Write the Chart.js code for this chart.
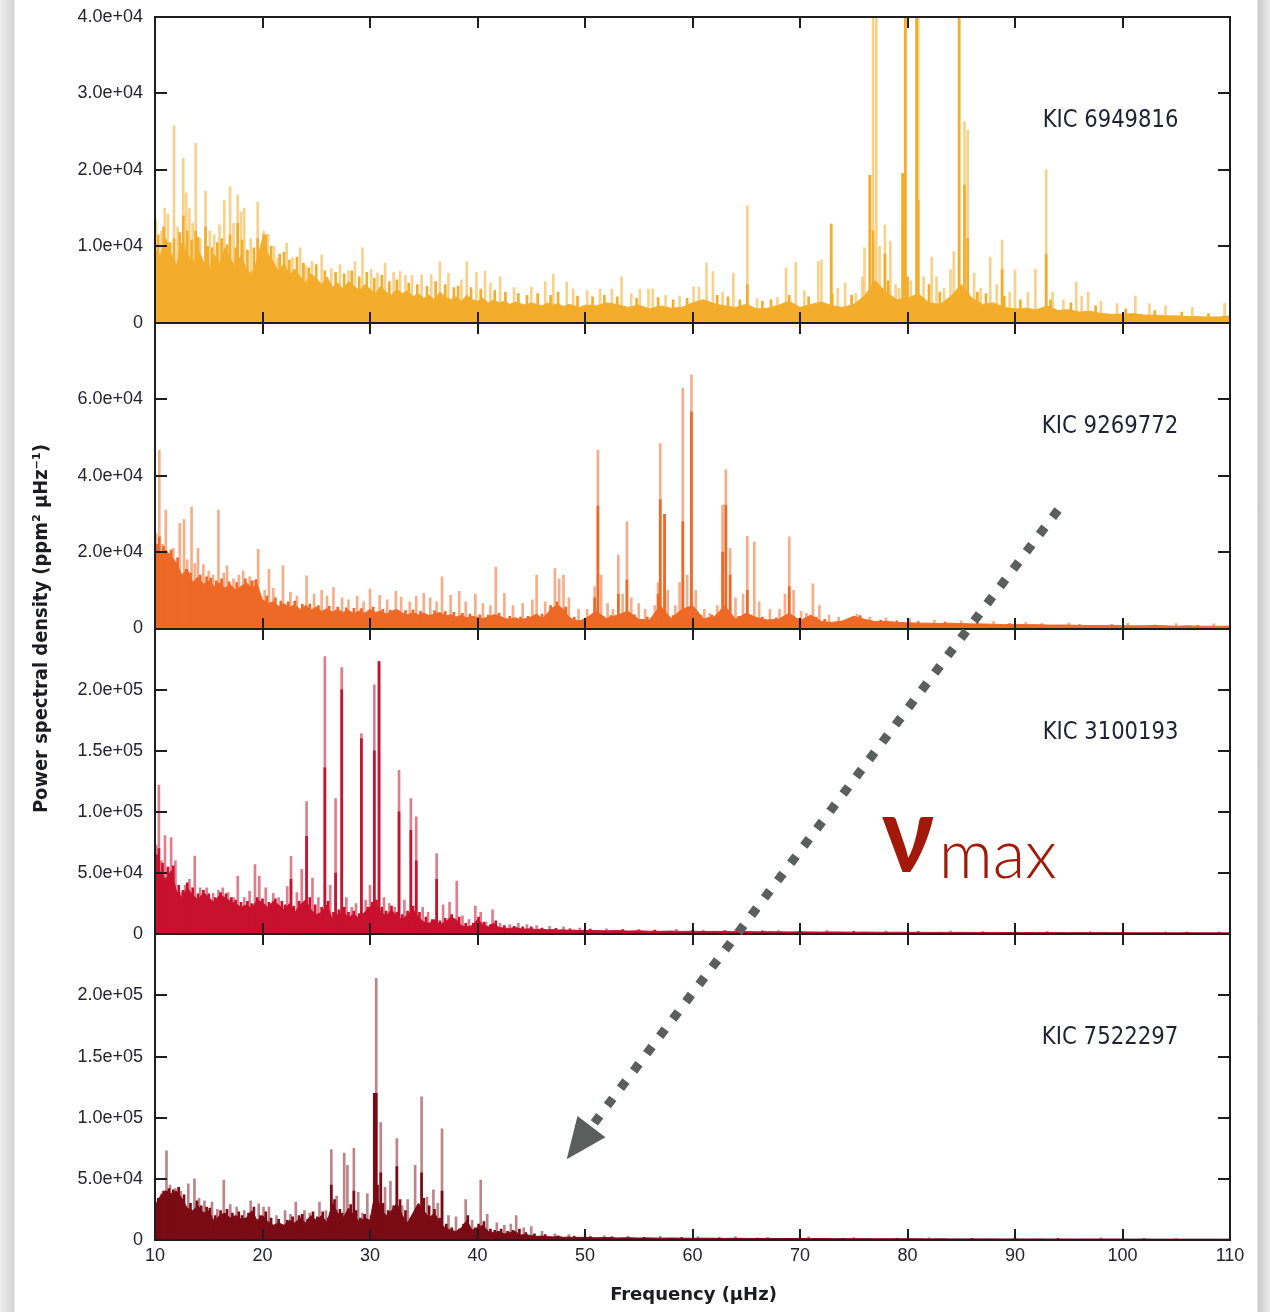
<!DOCTYPE html>
<html>
<head>
<meta charset="utf-8">
<title>Oscillation power spectra of four red giants</title>
<script src="https://cdn.jsdelivr.net/npm/chart.js@4.4.1/dist/chart.umd.min.js"></script>
<style>
  html, body {
    margin: 0; padding: 0; width: 1270px; height: 1312px; overflow: hidden;
    background: linear-gradient(to right, #efefef 0px, #d3d3d3 14px, #ffffff 15px,
                #ffffff 1257px, #c9c9c9 1258px, #ececec 1270px);
  }
  canvas { position: absolute; left: 0; top: 0; }
</style>
</head>
<body>
<canvas id="spectra" width="1270" height="1312"></canvas>
<script>
// ---------- frequency axis ----------
const freqTicks = [10, 20, 30, 40, 50, 60, 70, 80, 90, 100, 110];
const freqTickLabels = ['10', '20', '30', '40', '50', '60', '70', '80', '90', '100', '110'];

// sampling of the smoothed background level: every 0.5 μHz up to 50, every 1 μHz above
const bgFreq = [];
for (let f = 10; f <= 50; f += 0.5) bgFreq.push(f);
for (let f = 51; f <= 110; f += 1) bgFreq.push(f);

// ---------- KIC 6949816 ----------
const p1TickValues = [0, 10000, 20000, 30000, 40000];
const p1TickLabels = ['0', '1.0e+04', '2.0e+04', '3.0e+04', '4.0e+04'];
const p1BgLow = [
  9500, 8800, 11000, 9000, 7500, 10500, 9000, 7800, 9600, 8000,
  6800, 9000, 7600, 9800, 8400, 7200, 8800, 7000, 6400, 8200,
  11000, 9000, 8000, 6600, 7800, 6200, 7000, 6000, 5200, 6400,
  5800, 5000, 6000, 4600, 5200, 4400, 5400, 4800, 4200, 5000,
  4400, 3800, 4800, 4000, 3600, 4400, 3800, 4200, 3400, 3800,
  3200, 3600, 3000, 4000, 3400, 3000, 3400, 2800, 3600, 3000,
  2800, 3200, 2600, 3000, 2600, 2800, 2400, 2700, 2500, 2300,
  2600, 2400, 2200, 2600, 2300, 2500, 2100, 2400, 2200, 2000,
  2300
];
const p1BgHigh = [
  2200, 2600, 2400, 2000, 2300, 1800, 2200, 1900, 2000, 2600,
  3000, 2500, 2200, 2000, 2400, 1800, 1900, 2300, 2800, 2000,
  2400, 2700, 2200, 2000, 2400, 3500, 5500, 4000, 3000, 3200,
  3800, 2600, 2400, 3400, 5000, 3200, 2400, 2600, 2000, 1800,
  1900, 1700, 2200, 1600, 1700, 1400, 1500, 1200, 1100, 1100,
  1200, 1000, 1000, 900, 900, 800, 800, 750, 750, 900
];
const p1Peaks = [
  [10.1,13500],[10.6,12000],[10.9,15000],[11.2,14200],[11.77,25800],[12.1,12500],[12.63,21500],
  [12.9,17000],[13.2,15000],[13.5,13000],[13.78,23500],[14.2,11000],[14.7,17200],[15.1,12000],
  [15.5,11500],[16.0,12800],[16.45,16000],[16.98,17800],[17.3,13000],[17.69,16700],[18.0,14500],
  [18.3,15000],[18.9,11000],[19.55,15800],[20.1,12000],[20.5,11600],[21.07,10000],[21.4,8500],
  [22.25,10400],[22.8,8500],[23.5,9800],[24.0,7500],[24.6,8000],[25.5,8900],[26.4,7100],
  [27.2,7600],[28.0,6800],[28.6,8000],[29.3,9800],[30.1,7000],[30.7,6500],[31.4,7800],
  [32.2,6600],[32.8,6700],[33.3,6200],[33.9,6200],[34.8,6300],[35.7,6300],[36.5,8000],
  [37.3,6500],[38.5,5600],[39.0,8000],[39.9,6600],[40.7,6800],[41.2,5200],[42.1,6000],
  [43.4,4600],[45.0,4700],[46.3,5400],[47.05,6300],[48.3,5300],[48.9,4400],[50.2,4200],
  [51.4,4400],[52.5,4400],[53.4,6000],[54.3,3800],[55.1,4400],[55.9,4400],[56.3,4400],
  [57.5,3600],[58.8,3500],[60.1,4700],[60.6,4700],[61.3,7800],[61.9,6700],[62.8,4000],
  [63.8,6500],[65.1,15300],[66.0,3200],[67.9,3300],[68.7,7200],[69.6,7900],[70.4,4200],
  [71.7,8000],[72.0,8200],[72.9,12900],[73.5,4500],[74.2,5200],[75.2,3800],[75.8,6000],
  [76.0,9800],[76.5,19300],[76.8,45000],[77.1,45000],[77.4,10000],[77.9,12800],[78.4,10700],
  [78.9,5000],[79.2,4500],[79.55,19500],[79.8,45000],[80.3,5500],[80.85,45000],[81.0,45000],
  [81.5,6000],[82.25,8600],[82.7,6000],[83.4,4500],[84.0,7000],[84.3,9300],[84.8,45000],
  [85.3,26300],[85.6,25200],[86.2,6500],[86.8,4500],[87.7,8600],[88.3,5000],[88.8,10800],
  [89.5,4000],[90.0,6900],[91.2,4000],[91.9,7000],[92.9,20000],[93.5,4000],[94.5,3000],
  [95.7,5300],[96.2,3500],[96.8,4000],[98.0,2800],[99.5,2500],[101.2,3500],[102.5,2500],
  [104.0,2200],[106.5,2000],[109.5,2500]
];
const p1Cores = [
  [11.77,11000],[12.63,14000],[13.78,12000],[14.7,12500],[16.98,11500],[17.69,13000],
  [19.55,11000],[20.1,11500],[65.1,5000],[72.9,12900],[76.5,19300],[76.8,12000],[77.9,9000],
  [79.55,19500],[79.8,45000],[80.85,45000],[81.0,16000],[84.8,45000],[85.3,18000],[85.6,11000],
  [88.8,7000],[92.9,9000]
];
const p1Texture = [
  [10.3,11500],[10.8,12500],[11.4,10500],[12.3,11800],[13.0,12000],[13.4,10800],[14.0,11200],
  [14.9,10000],[15.3,9800],[15.8,10500],[16.2,11000],[16.7,10200],[17.5,9800],[18.1,10800],
  [18.6,9500],[19.2,9800],[20.3,11500],[20.8,10000],[21.6,9000],[22.0,9200],[22.5,8200],
  [23.2,8600],[23.8,7800],[24.3,7200],[25.0,7600],[25.8,6800],[26.8,6600],[27.6,6400],
  [28.3,6800],[29.0,6000],[29.7,6600],[30.4,5800],[31.1,6200],[31.8,5400],[32.5,5600],
  [33.6,5200],[34.4,5000],[35.3,4800],[36.1,5400],[37.0,5000],[37.8,4600],[38.2,4800],
  [39.4,4600],[40.3,4400],[41.6,4200],[42.6,4000],[43.8,3800],[44.6,3600],[45.6,3800],
  [46.8,3600],[47.5,4000],[49.3,3500],[50.7,3400],[51.8,3600],[53.0,3400],[54.8,3200],
  [56.8,3300],[58.2,3000],[59.5,3200],[62.3,3600],[63.3,3400],[64.4,3000],[66.5,2800],
  [67.3,3000],[69.0,3600],[70.8,3400],[73.0,3800],[74.8,3600],[78.2,5500],[80.0,6000],
  [82.0,5000],[83.0,4000],[86.5,4000],[87.3,3800],[89.0,3500],[90.5,3000],[93.3,3000],
  [95.2,2600],[97.5,2200],[100.3,1800],[103.0,1600],[105.5,1400],[108.0,1200]
];

// ---------- KIC 9269772 ----------
const p2TickValues = [0, 20000, 40000, 60000, 80000];
const p2TickLabels = ['0', '2.0e+04', '4.0e+04', '6.0e+04', ''];
const p2BgLow = [
  21000, 19500, 20500, 19000, 17000, 14000, 15500, 12000, 13500, 11500,
  12500, 11000, 12000, 10500, 11500, 10000, 11000, 12000, 10500, 11500,
  7500, 6500, 7000, 5800, 6500, 5500, 6200, 5000, 6000, 4800,
  5600, 4500, 5200, 4300, 5000, 4200, 4800, 3800, 4600, 4000,
  5000, 4200, 4600, 3800, 4500, 5000, 4000, 3600, 4200, 3500,
  4000, 3400, 3800, 4200, 3300, 3600, 3000, 3400, 2800, 3200,
  2900, 2600, 3000, 3600, 3400, 2600, 2400, 2800, 2300, 2600,
  3000, 3800, 2500, 4000, 5500, 6000, 5000, 3000, 2200, 2000,
  2500
];
const p2BgHigh = [
  4500, 2600, 3500, 4500, 2400, 2200, 6000, 2600, 5000, 6000,
  2600, 3000, 6000, 2400, 4000, 2800, 2200, 2400, 4000, 2000,
  3500, 1800, 1600, 2000, 3200, 2400, 1800, 1900, 1600, 1500,
  1400, 1400, 1300, 1400, 1300, 1200, 1200, 1100, 1000, 1100,
  1000, 1000, 900, 900, 900, 800, 800, 800, 800, 700,
  700, 700, 800, 700, 600, 700, 600, 600, 600, 600
];
const p2Peaks = [
  [10.1,24900],[10.4,46700],[10.7,22000],[11.0,31000],[11.3,19500],[11.7,21000],[12.3,27500],
  [12.7,28500],[13.0,18000],[13.4,31800],[13.7,17000],[14.0,21000],[14.5,16700],[15.0,15000],
  [15.4,14000],[15.9,31000],[16.4,14500],[16.7,16400],[17.3,13000],[17.8,14000],[18.2,15000],
  [18.8,13500],[19.2,12500],[19.6,20700],[20.2,10000],[20.6,15500],[21.0,10500],[21.9,16400],
  [22.6,9500],[23.2,8500],[24.1,13800],[24.8,9000],[25.5,10000],[26.0,8500],[26.6,10700],
  [27.4,8000],[28.0,7500],[28.8,8500],[29.4,7000],[30.0,10300],[30.9,8700],[31.6,7500],
  [32.4,9800],[32.9,8200],[33.7,7000],[34.3,8500],[35.0,9200],[35.6,8000],[36.2,7000],
  [36.7,13500],[37.5,8700],[38.3,9700],[38.9,7000],[39.8,9000],[40.5,6500],[41.2,6000],
  [41.7,16100],[42.5,9200],[43.3,6000],[44.2,6500],[45.1,7500],[45.5,14000],[46.3,7000],
  [47.2,15700],[47.6,13000],[48.0,14000],[48.5,8000],[49.4,5000],[50.2,5000],[50.9,11000],
  [51.2,46700],[51.5,14000],[52.1,6500],[52.6,5000],[53.1,19200],[53.5,9000],[53.9,27900],
  [54.3,8000],[55.0,6500],[55.6,5000],[56.5,6000],[56.8,12000],[57.0,48400],[57.4,29900],
  [57.7,10000],[58.4,6000],[58.8,12000],[59.1,62900],[59.5,14000],[59.9,66400],[60.3,10000],
  [61.1,5000],[61.6,4000],[62.3,6000],[62.8,32300],[63.1,41500],[63.5,21000],[64.0,8000],
  [64.7,9000],[65.1,24100],[65.75,22600],[66.2,7000],[67.2,5000],[68.1,5000],[68.6,9000],
  [69.0,24000],[69.4,10000],[70.1,4500],[70.6,4000],[71.2,11700],[71.8,6000],[72.7,3500],
  [73.6,3000],[75.3,3700],[76.5,3000],[78.0,2800],[80.2,2500],[82.5,2200],[85.0,2000],
  [88.0,1800],[91.0,1600],[95.0,1500],[100.5,1400],[105.0,1300],[108.5,1200]
];
const p2Cores = [
  [10.4,24000],[50.9,8000],[51.2,32000],[53.1,9000],[53.9,12700],[56.8,9000],[57.0,33700],
  [57.4,29900],[59.1,28000],[59.9,56700],[62.8,20000],[63.1,32300],[63.5,14000],[65.1,10000],
  [69.0,11000]
];
const p2Texture = [
  [10.2,22000],[10.8,21500],[11.5,20500],[12.1,18500],[12.9,15500],[13.3,14500],[14.2,14000],
  [14.8,13500],[15.2,13200],[15.7,12500],[16.2,13000],[16.9,12200],[17.6,12000],[18.4,13000],
  [19.0,12500],[19.4,12800],[20.4,8500],[21.2,8000],[21.7,7200],[22.4,7000],[23.0,7200],
  [23.7,6300],[24.4,6400],[25.2,6000],[26.2,5800],[27.0,5600],[27.8,5400],[28.5,5300],
  [29.2,5200],[30.3,5600],[31.2,5000],[31.9,4800],[33.3,4700],[34.0,4900],[34.7,4500],
  [36.0,4600],[37.0,4400],[37.8,4200],[38.6,4000],[39.3,3800],[40.2,3600],[41.0,3500],
  [42.0,4000],[43.0,3200],[44.0,3000],[44.7,3200],[46.0,3800],[46.8,6000],[47.4,7000],
  [48.2,5600],[49.0,3000],[50.5,3200],[52.4,3400],[54.6,3600],[55.8,3000],[58.2,3400],
  [60.8,3400],[61.8,3500],[64.3,3200],[66.5,3000],[67.8,2800],[69.8,2600],[71.5,3000],
  [72.3,2400],[74.5,2400],[75.6,3400],[77.5,2200],[79.0,2000],[81.0,1800],[83.5,1700],
  [86.5,1500],[89.5,1300],[92.5,1200],[96.0,1000],[99.0,1000],[103.0,900],[107.0,800]
];

// ---------- KIC 3100193 ----------
const p3TickValues = [0, 50000, 100000, 150000, 200000, 250000];
const p3TickLabels = ['0', '5.0e+04', '1.0e+05', '1.5e+05', '2.0e+05', ''];
const p3BgLow = [
  60000, 50000, 45000, 52000, 35000, 30000, 38000, 32000, 28000, 34000,
  30000, 26000, 32000, 30000, 27000, 25000, 22000, 24000, 21000, 28000,
  26000, 22000, 27000, 24000, 20000, 25000, 18000, 24000, 28000, 20000,
  16000, 18000, 24000, 12000, 16000, 18000, 14000, 16000, 13000, 18000,
  22000, 25000, 18000, 15000, 20000, 14000, 12000, 16000, 20000, 14000,
  10000, 9000, 12000, 8000, 10000, 14000, 12000, 7000, 6000, 7000,
  12000, 8000, 6000, 9000, 5500, 5000, 4800, 5500, 4500, 4200,
  4500, 3800, 4200, 3600, 3800, 3400, 3600, 3200, 3400, 3000,
  3200
];
const p3BgHigh = [
  3000, 2800, 3000, 2600, 2800, 2500, 2400, 2600, 2300, 2500,
  2200, 2400, 2200, 2100, 2200, 2000, 2100, 2000, 1900, 2000,
  1900, 1800, 1900, 1800, 1700, 1800, 1700, 1600, 1700, 1600,
  1600, 1500, 1600, 1500, 1600, 1500, 1400, 1500, 1400, 1500,
  1400, 1500, 1400, 1400, 1300, 1400, 1300, 1400, 1300, 1300,
  1300, 1200, 1300, 1200, 1200, 1300, 1200, 1200, 1200, 1200
];
const p3Peaks = [
  [10.1,73000],[10.36,122000],[10.6,60000],[10.93,80600],[11.5,79000],[11.9,60000],[12.4,34000],
  [12.8,40000],[13.2,45000],[13.7,64000],[14.2,38000],[14.8,38000],[15.4,33500],[15.9,36000],
  [16.3,38000],[16.8,34000],[17.3,30000],[17.7,47500],[18.3,30000],[18.8,35000],[19.3,57000],
  [19.7,47500],[20.3,38000],[21.0,33500],[21.5,30000],[22.3,39000],[22.65,63700],[23.2,34000],
  [23.65,53000],[24.1,108500],[24.65,46000],[25.2,30000],[25.8,227000],[26.3,40000],
  [26.8,111000],[27.37,218000],[27.8,30000],[28.3,22000],[28.7,25000],[29.2,164000],
  [29.6,28000],[30.0,40000],[30.4,204000],[30.84,223000],[31.3,30000],[31.8,25000],
  [32.3,22000],[32.7,134000],[33.2,28000],[33.8,111000],[34.3,96000],[34.9,22000],
  [35.4,18000],[36.2,66000],[36.8,24000],[37.4,26000],[38.07,43500],[38.6,15000],
  [39.2,12000],[39.8,23000],[40.3,18000],[40.8,10000],[41.4,20000],[42.1,9000],[43.0,8000],
  [43.8,9000],[44.6,8000],[45.5,7000],[46.7,6500],[48.0,6000],[49.5,5000],[52.0,4500],
  [55.0,4000],[58.5,4000],[61.0,3500],[64.0,3500],[68.0,3000],[72.5,3000],[78.0,2500],
  [84.0,2500],[90.0,2200],[97.0,2200],[104.0,2000],[109.0,2000]
];
const p3Cores = [
  [10.36,70000],[22.65,45000],[24.1,80000],[25.8,136000],[26.8,50000],[27.37,200000],
  [29.2,160000],[30.4,150000],[30.84,223000],[32.7,100000],[33.8,85000],[34.3,60000],
  [36.2,45000]
];
const p3Texture = [
  [10.2,65000],[10.7,58000],[11.2,55000],[11.7,56000],[12.2,40000],[12.6,36000],[13.0,42000],
  [13.5,38000],[14.0,33000],[14.5,36000],[15.0,33000],[15.6,30000],[16.1,34000],[16.6,33000],
  [17.1,30000],[17.5,28000],[18.0,26000],[18.6,27000],[19.0,25000],[19.5,30000],[20.0,29000],
  [20.6,26000],[21.2,29000],[21.8,27000],[22.1,24000],[22.9,23000],[23.4,27000],[24.4,30000],
  [24.9,24000],[25.5,22000],[26.1,27000],[26.6,18000],[27.1,20000],[27.6,22000],[28.0,18000],
  [28.5,19000],[29.0,17000],[29.8,22000],[30.2,26000],[30.6,28000],[31.1,22000],[31.5,19000],
  [32.0,23000],[32.5,18000],[33.0,16000],[33.5,19000],[34.0,23000],[34.6,18000],[35.2,14000],
  [35.8,12000],[36.5,11000],[37.0,13000],[37.6,16000],[38.3,14000],[38.9,9000],[39.6,9000],
  [40.1,14000],[40.6,10000],[41.2,8000],[41.7,11000],[42.5,7000],[43.4,6500],[44.2,6000],
  [45.0,6000],[46.0,5000],[47.3,4800],[48.6,4500],[50.5,4200],[53.5,3800],[56.5,3400],
  [60.0,3200],[63.0,3000],[66.5,2700],[70.0,2500],[75.0,2300],[81.0,2100],[87.0,2000],
  [93.0,1900],[100.0,1800],[106.0,1700]
];

// ---------- KIC 7522297 ----------
const p4TickValues = [0, 50000, 100000, 150000, 200000, 250000];
const p4TickLabels = ['0', '5.0e+04', '1.0e+05', '1.5e+05', '2.0e+05', ''];
const p4BgLow = [
  28000, 36000, 40000, 38000, 40000, 34000, 26000, 24000, 28000, 22000,
  24000, 15000, 20000, 22000, 18000, 20000, 17000, 18000, 24000, 16000,
  20000, 15000, 12000, 14000, 12000, 16000, 14000, 18000, 14000, 20000,
  16000, 20000, 14000, 30000, 22000, 18000, 26000, 20000, 15000, 18000,
  16000, 40000, 25000, 20000, 24000, 30000, 20000, 14000, 22000, 30000,
  24000, 18000, 22000, 14000, 10000, 8000, 7000, 10000, 16000, 8000,
  10000, 12000, 7000, 6000, 7000, 5000, 6000, 7000, 4000, 4500,
  3500, 3000, 3200, 2800, 2500, 2800, 2200, 2400, 2000, 2200,
  2000
];
const p4BgHigh = [
  1800, 2000, 1700, 1800, 1600, 1700, 1500, 1600, 1500, 1400,
  1500, 1400, 1300, 1400, 1300, 1200, 1300, 1200, 1200, 1300,
  1100, 1200, 1100, 1100, 1000, 1100, 1000, 1000, 1000, 1000,
  1000, 900, 1000, 900, 900, 900, 900, 900, 800, 900,
  800, 900, 800, 800, 800, 800, 800, 800, 800, 800,
  700, 800, 700, 700, 700, 700, 700, 700, 700, 700
];
const p4Peaks = [
  [10.1,29000],[10.6,38000],[11.07,73000],[11.4,45000],[11.9,42000],[12.4,40000],[13.1,46000],
  [13.67,50000],[14.1,34000],[14.6,32000],[15.3,31000],[15.8,25000],[16.4,49000],[17.0,29000],
  [17.6,27000],[18.3,24000],[18.9,32000],[19.65,29500],[20.1,27000],[20.6,27000],[21.3,20000],
  [22.1,24000],[22.6,21000],[23.1,31000],[23.9,24000],[24.4,22000],[25.3,31000],[25.9,24000],
  [26.4,74000],[26.9,36000],[27.6,71000],[27.9,61000],[28.5,75000],[28.9,39000],[29.3,22000],
  [29.75,38000],[30.4,120000],[30.58,214000],[31.0,96000],[31.4,43000],[31.9,48000],
  [32.5,83000],[33.0,28000],[33.5,33000],[34.2,61000],[34.8,117000],[35.3,35000],[35.9,41000],
  [36.3,30000],[36.7,91000],[37.3,20000],[38.0,19000],[38.9,33000],[39.5,16000],[40.3,49000],
  [40.9,21000],[41.8,14000],[42.5,12000],[43.1,13000],[43.6,20000],[44.3,10000],[45.0,11000],
  [46.0,7000],[47.2,5000],[48.5,4500],[50.0,4000],[51.8,3500],[54.0,3000],[57.0,3000],
  [60.5,2500],[64.0,2500],[67.0,2000],[70.8,2500],[75.0,2000],[82.0,1800],[90.0,1500],
  [98.0,1500],[105.0,1200]
];
const p4Cores = [
  [11.07,40000],[26.4,45000],[28.5,40000],[30.4,120000],[30.58,120000],[31.0,55000],
  [32.5,60000],[34.8,55000],[36.7,40000]
];
const p4Texture = [
  [10.3,34000],[10.8,40000],[11.3,42000],[11.7,41000],[12.2,43000],[12.7,37000],[13.3,30000],
  [13.9,32000],[14.3,28000],[14.8,27000],[15.1,26000],[15.6,20000],[16.1,24000],[16.7,25000],
  [17.2,22000],[17.8,23000],[18.1,20000],[18.7,22000],[19.2,27000],[19.8,20000],[20.3,23000],
  [20.8,18000],[21.5,17000],[22.3,16000],[22.8,19000],[23.4,20000],[23.7,21000],[24.2,17000],
  [24.7,23000],[25.1,19000],[25.6,23000],[26.1,18000],[26.7,33000],[27.2,25000],[27.4,22000],
  [28.2,29000],[28.7,24000],[29.1,18000],[29.5,21000],[30.1,20000],[30.7,45000],[31.2,30000],
  [31.7,24000],[32.2,28000],[32.8,33000],[33.3,24000],[33.8,18000],[34.4,26000],[35.0,34000],
  [35.5,28000],[36.0,25000],[36.5,18000],[37.1,13000],[37.6,10000],[38.3,9000],[38.7,13000],
  [39.1,20000],[39.8,10000],[40.1,13000],[40.6,15000],[41.2,9000],[41.6,8000],[42.2,9000],
  [42.8,7000],[43.3,8000],[43.9,9000],[44.5,6000],[45.3,5000],[46.3,4500],[47.5,3500],
  [49.0,3000],[50.5,2800],[52.5,2500],[55.5,2200],[59.0,2000],[62.5,1800],[66.0,1600],
  [70.0,1500],[74.0,1400],[79.0,1300],[86.0,1200],[94.0,1100],[102.0,1000]
];

// ---------- panel styling (listed top to bottom) ----------
const stars = [
  { name: 'KIC 6949816', axis: 'y1', max: 40000, color: '#f3ad2b', faint: 'rgba(243,173,43,0.55)',
    bg: p1BgLow.concat(p1BgHigh), peaks: p1Peaks, cores: p1Cores.concat(p1Texture),
    tickValues: p1TickValues, tickLabels: p1TickLabels },
  { name: 'KIC 9269772', axis: 'y2', max: 80000, color: '#ee6926', faint: 'rgba(238,105,38,0.55)',
    bg: p2BgLow.concat(p2BgHigh), peaks: p2Peaks, cores: p2Cores.concat(p2Texture),
    tickValues: p2TickValues, tickLabels: p2TickLabels },
  { name: 'KIC 3100193', axis: 'y3', max: 250000, color: '#c8112e', faint: 'rgba(200,17,46,0.55)',
    bg: p3BgLow.concat(p3BgHigh), peaks: p3Peaks, cores: p3Cores.concat(p3Texture),
    tickValues: p3TickValues, tickLabels: p3TickLabels },
  { name: 'KIC 7522297', axis: 'y4', max: 250000, color: '#7a0b15', faint: 'rgba(122,11,21,0.5)',
    bg: p4BgLow.concat(p4BgHigh), peaks: p4Peaks, cores: p4Cores.concat(p4Texture),
    tickValues: p4TickValues, tickLabels: p4TickLabels }
];

// arrow from the KIC 9269772 panel down to the KIC 7522297 panel, and its label
const arrowFrom = { x: 94.0, y: 31000, axis: 'y2' };
const arrowTo = { x: 48.3, y: 66000, axis: 'y4' };
const vmaxAt = { x: 77.6, y: 51300, axis: 'y3' };

const tickFont = { family: "'Liberation Sans', Arial, sans-serif", size: 18 };
const textColor = '#24242f';

// ---------- datasets ----------
const datasets = [];
stars.forEach(s => {
  datasets.push({
    type: 'bar', label: s.name + ' peaks', yAxisID: s.axis, xAxisID: 'x',
    data: s.peaks.map(p => ({ x: p[0], y: p[1] })),
    backgroundColor: s.faint, borderWidth: 0, barThickness: 2, grouped: false, order: 3
  });
  datasets.push({
    type: 'line', label: s.name, yAxisID: s.axis, xAxisID: 'x',
    data: bgFreq.map((f, i) => ({ x: f, y: s.bg[i] })),
    borderColor: s.color, backgroundColor: s.color, borderWidth: 1,
    pointRadius: 0, tension: 0, fill: 'origin', order: 2
  });
  datasets.push({
    type: 'bar', label: s.name + ' cores', yAxisID: s.axis, xAxisID: 'x',
    data: s.cores.map(p => ({ x: p[0], y: p[1] })),
    backgroundColor: s.color, borderWidth: 0, barThickness: 2, grouped: false, order: 1
  });
});

// ---------- scales (stacked axes are laid out last-declared on top) ----------
const scales = {
  x: {
    type: 'linear', position: 'bottom', min: 10, max: 110, offset: false,
    grid: { display: false, drawTicks: false }, border: { display: false },
    afterBuildTicks: sc => { sc.ticks = freqTicks.map(v => ({ value: v })); },
    afterFit: sc => { sc.height = 72; sc.paddingLeft = 0; sc.paddingRight = 0; },
    ticks: {
      autoSkip: false, maxRotation: 0, padding: 5, color: textColor, font: tickFont,
      callback: (v, i) => freqTickLabels[i]
    }
  }
};
stars.slice().reverse().forEach(s => {
  scales[s.axis] = {
    type: 'linear', position: 'left', stack: 'spectra', stackWeight: 1,
    min: 0, max: s.max,
    grid: { display: false, drawTicks: false }, border: { display: false },
    afterBuildTicks: sc => { sc.ticks = s.tickValues.map(v => ({ value: v })); },
    afterFit: sc => { sc.width = 155; sc.paddingTop = 0; sc.paddingBottom = 0; },
    ticks: {
      autoSkip: false, padding: 12, color: textColor, font: tickFont,
      callback: (v, i) => s.tickLabels[i]
    }
  };
});

// ---------- helpers ----------
function fittedText(ctx, text, fontAt, x, y, inkWidth, inkAscent, align) {
  ctx.save();
  ctx.font = fontAt(100);
  const probe = ctx.measureText(text);
  const size = 100 * inkAscent / probe.actualBoundingBoxAscent;
  ctx.font = fontAt(size);
  const m = ctx.measureText(text);
  const w = m.actualBoundingBoxLeft + m.actualBoundingBoxRight;
  ctx.translate(x, y);
  ctx.scale(inkWidth / w, 1);
  ctx.textAlign = align;
  ctx.textBaseline = 'alphabetic';
  ctx.fillText(text, 0, 0);
  ctx.restore();
}

// frames with inward tick marks around every panel
const panelFrames = {
  id: 'panelFrames',
  afterDatasetsDraw(chart) {
    const { ctx } = chart;
    const x = chart.scales.x;
    ctx.save();
    ctx.strokeStyle = '#1e1e1e';
    ctx.lineWidth = 2;
    stars.forEach(s => {
      const sc = chart.scales[s.axis];
      const top = Math.round(sc.top), bottom = Math.round(sc.bottom);
      const left = Math.round(x.left), right = Math.round(x.right);
      ctx.strokeRect(left, top, right - left, bottom - top);
      ctx.beginPath();
      freqTicks.forEach(f => {
        const px = Math.round(x.getPixelForValue(f));
        if (px <= left + 2 || px >= right - 2) return;
        ctx.moveTo(px, top); ctx.lineTo(px, top + 11);
        ctx.moveTo(px, bottom); ctx.lineTo(px, bottom - 11);
      });
      s.tickValues.forEach(v => {
        const py = Math.round(sc.getPixelForValue(v));
        if (py <= top + 2 || py >= bottom - 2) return;
        ctx.moveTo(left, py); ctx.lineTo(left + 12, py);
        ctx.moveTo(right, py); ctx.lineTo(right - 12, py);
      });
      ctx.stroke();
    });
    ctx.restore();
  }
};

// star names, axis titles, the dotted arrow and its label
const annotations = {
  id: 'annotations',
  afterDraw(chart) {
    const { ctx } = chart;
    const x = chart.scales.x;
    const narrow = sz => `${sz}px 'Liberation Sans Narrow', 'DejaVu Sans Condensed', 'Liberation Sans', sans-serif`;
    const boldTitle = sz => `bold ${sz}px 'Liberation Sans Narrow', 'DejaVu Sans Condensed', 'Liberation Sans', sans-serif`;

    ctx.save();
    ctx.fillStyle = '#1f2230';
    stars.forEach(s => {
      const sc = chart.scales[s.axis];
      const base = sc.top + (sc.bottom - sc.top) * 0.36;
      fittedText(ctx, s.name, narrow, x.getPixelForValue(105.2), base, 133, 18, 'right');
    });

    // axis titles
    ctx.fillStyle = '#1b1b22';
    fittedText(ctx, 'Frequency (μHz)', boldTitle, (x.left + x.right) / 2 + 1, 1300, 165, 14, 'center');
    const yTop = chart.scales.y1.top, yBottom = chart.scales.y4.bottom;
    ctx.save();
    ctx.translate(47, (yTop + yBottom) / 2);
    ctx.rotate(-Math.PI / 2);
    fittedText(ctx, 'Power spectral density (ppm² μHz⁻¹)', boldTitle, 0, 0, 367, 15, 'center');
    ctx.restore();

    // dotted arrow
    const sx = x.getPixelForValue(arrowFrom.x), sy = chart.scales[arrowFrom.axis].getPixelForValue(arrowFrom.y);
    const tx = x.getPixelForValue(arrowTo.x), ty = chart.scales[arrowTo.axis].getPixelForValue(arrowTo.y);
    const len = Math.hypot(tx - sx, ty - sy);
    const ux = (tx - sx) / len, uy = (ty - sy) / len;
    const headLen = 41, headHalf = 17.5;
    const bx = tx - ux * headLen, by = ty - uy * headLen;
    ctx.strokeStyle = '#5a5f5e';
    ctx.fillStyle = '#5a5f5e';
    ctx.lineWidth = 9;
    ctx.lineCap = 'butt';
    ctx.setLineDash([9, 12.7]);
    ctx.beginPath();
    ctx.moveTo(sx, sy);
    ctx.lineTo(bx, by);
    ctx.stroke();
    ctx.setLineDash([]);
    ctx.beginPath();
    ctx.moveTo(tx, ty);
    ctx.lineTo(bx - uy * headHalf, by + ux * headHalf);
    ctx.lineTo(bx + uy * headHalf, by - ux * headHalf);
    ctx.closePath();
    ctx.fill();

    // ν_max label
    const vx = x.getPixelForValue(vmaxAt.x), vy = chart.scales[vmaxAt.axis].getPixelForValue(vmaxAt.y);
    ctx.fillStyle = '#a2190a';
    fittedText(ctx, 'ν', sz => `bold ${sz}px Lato, 'Open Sans', sans-serif`, vx, vy, 52, 55, 'left');
    fittedText(ctx, 'max', sz => `300 ${sz}px Lato, 'Open Sans', sans-serif`, vx + 57, vy + 6, 112, 35, 'left');
    ctx.restore();
  }
};

new Chart(document.getElementById('spectra'), {
  type: 'line',
  data: { datasets },
  options: {
    responsive: false,
    animation: false,
    devicePixelRatio: 1,
    layout: { padding: { left: 0, right: 40, top: 17, bottom: 0 } },
    plugins: { legend: { display: false }, tooltip: { enabled: false } },
    scales
  },
  plugins: [panelFrames, annotations]
});
</script>
</body>
</html>
